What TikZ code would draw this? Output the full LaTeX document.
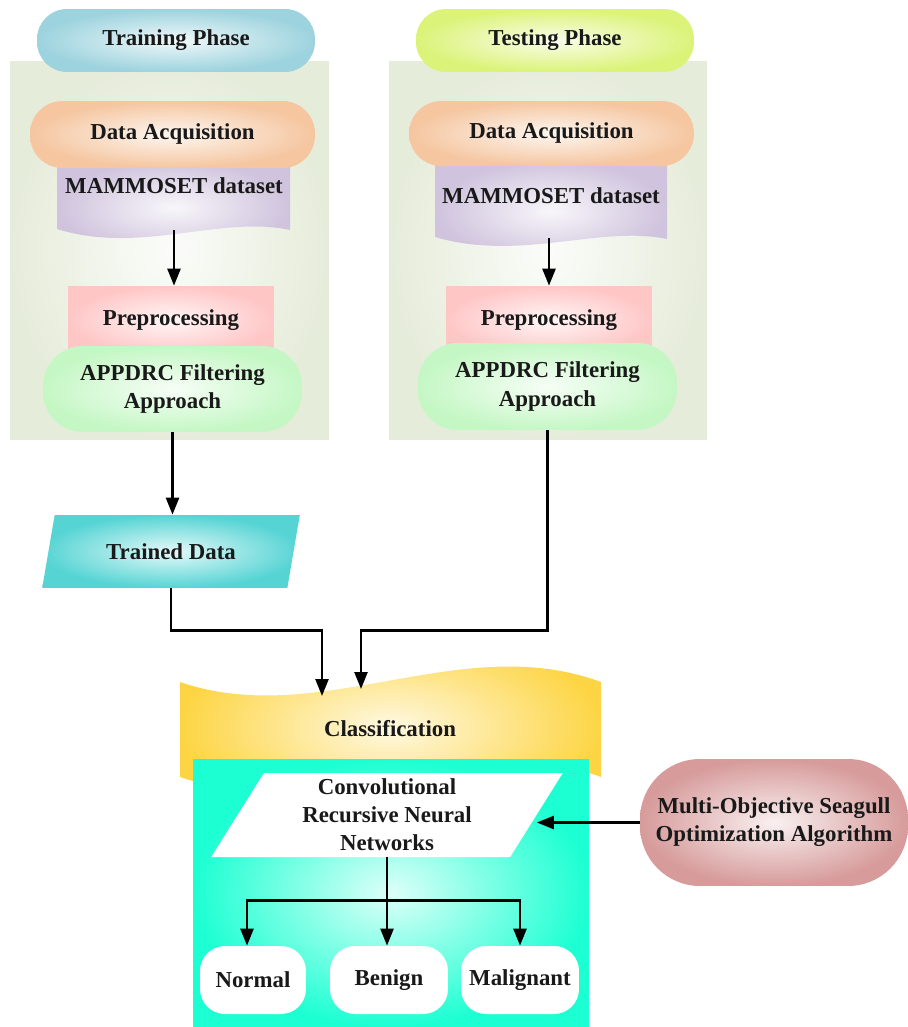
\documentclass[tikz,border=0pt]{standalone}
\usepackage{fontspec}
\setmainfont{Liberation Serif}
\usetikzlibrary{arrows.meta,shapes.geometric,calc}

\definecolor{panelc}{RGB}{230,236,218}
\definecolor{trainc}{RGB}{157,211,222}
\definecolor{testc}{RGB}{219,243,121}
\definecolor{acqc}{RGB}{245,198,160}
\definecolor{docc}{RGB}{207,195,221}
\definecolor{prec}{RGB}{255,198,198}
\definecolor{appc}{RGB}{197,247,197}
\definecolor{trnc}{RGB}{86,212,212}
\definecolor{clsc}{RGB}{253,213,68}
\definecolor{netc}{RGB}{28,255,210}
\definecolor{optc}{RGB}{215,155,155}

\tikzset{
  lbl/.style={font=\bfseries\fontsize{13}{16}\selectfont, align=center, text=black!90},
  glow/.style={inner color=#1!15!white, outer color=#1},
  pill/.style={rectangle, rounded corners=#1, lbl},
  slanted/.style={trapezium, trapezium stretches, lbl, inner sep=1pt},
  arr/.style={line width=1.4pt, -{Triangle[length=0.34cm,width=0.26cm]}},
  ln/.style={line width=1.4pt}
}

\begin{document}
\begin{tikzpicture}[x=0.02cm,y=-0.02cm]
\useasboundingbox (0,0) rectangle (908,1027);

% phase panels
\node[rectangle, glow=panelc, minimum width=6.38cm, minimum height=7.58cm] (trainbg) at (169.5,250.5) {};
\node[rectangle, glow=panelc, minimum width=6.36cm, minimum height=7.58cm] (testbg) at (548,250.5) {};
\node[pill=0.6cm, glow=trainc, minimum width=5.56cm, minimum height=1.26cm] (trainhead) at (176,40.5) {Training Phase};
\node[pill=0.6cm, glow=testc, minimum width=5.56cm, minimum height=1.26cm] (testhead) at (555,40.5) {Testing Phase};

% dataset documents
\shade[glow=docc] (57,160) -- (290,160) -- (290,230) .. controls (220,215) and (140,255) .. (57,229) -- cycle;
\shade[glow=docc] (435,160) -- (667,160) -- (667,239) .. controls (600,225) and (520,262) .. (435,237) -- cycle;
\node[lbl] (ds1) at (174,186) {MAMMOSET dataset};
\node[lbl] (ds2) at (551,196) {MAMMOSET dataset};
\coordinate (d1b) at (174,230);
\coordinate (d2b) at (549,238);

\node[pill=0.65cm, glow=acqc, minimum width=5.7cm, minimum height=1.34cm] (acq1) at (172.5,134.5) {Data Acquisition};
\node[pill=0.65cm, glow=acqc, minimum width=5.7cm, minimum height=1.3cm] (acq2) at (551.5,133.5) {Data Acquisition};

% preprocessing
\node[rectangle, glow=prec, lbl, minimum width=4.12cm, minimum height=1.36cm] (pre1) at (171,320) {Preprocessing};
\node[rectangle, glow=prec, lbl, minimum width=4.12cm, minimum height=1.36cm] (pre2) at (549,320) {Preprocessing};
\node[pill=0.8cm, glow=appc, minimum width=5.18cm, minimum height=1.72cm] (app1) at (172.5,389) {APPDRC Filtering\\Approach};
\node[pill=0.8cm, glow=appc, minimum width=5.18cm, minimum height=1.74cm] (app2) at (547.5,386.5) {APPDRC Filtering\\Approach};

\draw[arr] (d1b) -- (d1b |- pre1.north);
\draw[arr] (d2b) -- (d2b |- pre2.north);

% trained data
\node[slanted, glow=trnc, trapezium left angle=70, trapezium right angle=110,
      minimum width=5.16cm, minimum height=1.46cm] (trained) at (171,551.5) {Trained Data};
\draw[arr] (app1.south) -- (app1.south |- trained.north);

% classification
\shade[glow=clsc] (180,682) .. controls (320,730) and (460,630) .. (601,682)
  -- (601,777) .. controls (460,725) and (320,825) .. (180,777) -- cycle;
\node[lbl] (cls) at (390,729) {Classification};
\coordinate (cl1) at (322,696);
\coordinate (cl2) at (361,689);
\draw[arr] (trained.south) -- ++(0,42) -| (cl1);
\draw[arr] (app2.south) -- ++(0,200) -| (cl2);

% network box
\node[rectangle, glow=netc, minimum width=7.92cm, minimum height=5.36cm] (netbox) at (391,893) {};
\node[slanted, fill=white, trapezium left angle=64, trapezium right angle=116,
      minimum width=7.04cm, minimum height=1.68cm] (crnn) at (387,815) {Convolutional\\Recursive Neural\\Networks};
\node[pill=1.2cm, glow=optc, minimum width=5.36cm, minimum height=2.54cm] (opt) at (774,822.5) {Multi-Objective Seagull\\Optimization Algorithm};
\draw[arr] (opt.west) -- (opt.west -| crnn.east);

% outputs
\node[pill=0.5cm, fill=white, minimum width=2.12cm, minimum height=1.36cm] (normal) at (253,980) {Normal};
\node[pill=0.5cm, fill=white, minimum width=2.36cm, minimum height=1.36cm] (benign) at (389,980) {Benign};
\node[pill=0.5cm, fill=white, minimum width=2.36cm, minimum height=1.36cm] (malig) at (520,980) {Malignant};
\draw[ln] (crnn.south) -- ++(0,43) coordinate (br);
\draw[arr] (br) -- (br |- benign.north);
\draw[arr] (br) -| ([xshift=-0.12cm]normal.north);
\draw[arr] (br) -| (malig.north);
\end{tikzpicture}
\end{document}
